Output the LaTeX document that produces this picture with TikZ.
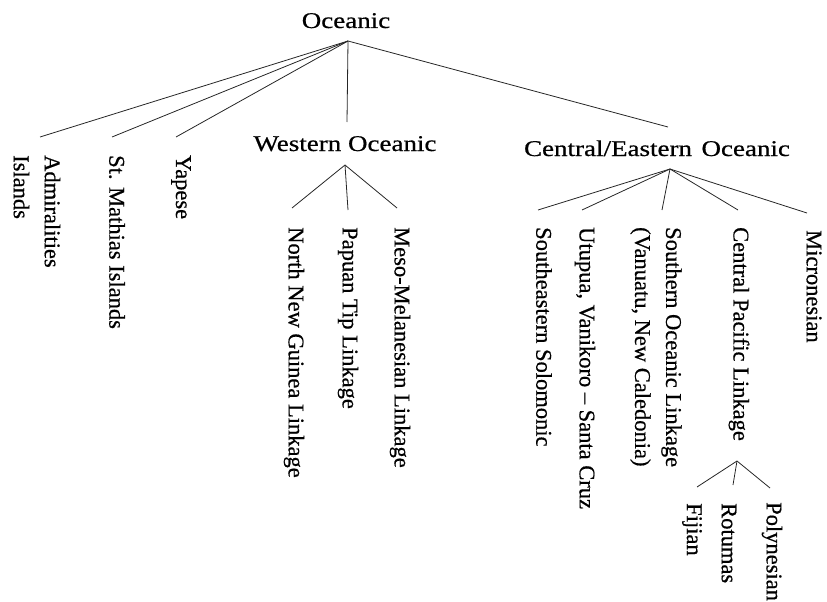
\documentclass[tikz,border=0pt]{standalone}
\usepackage{fontspec}
\usepackage{graphicx}
\setmainfont{Liberation Serif}[FakeBold=0.6]
\newcommand{\hstretch}[1]{\scalebox{1.2}[1]{#1}}
\begin{document}
\begin{tikzpicture}[x=1pt,y=1pt,
  hlab/.style={inner sep=0, anchor=base, font=\fontsize{22.5}{30}\selectfont},
  vlab/.style={inner sep=0, anchor=west, rotate=-90, align=left, font=\fontsize{22.5}{31}\selectfont},
  edge/.style={line width=0.8pt, black!85}]
\useasboundingbox (0,0) rectangle (827,-602);

% nodes
\node[hlab] (oc) at (346,-28) {\hstretch{Oceanic}};
\node[vlab] (adm) at (37,-155) {Admiralities\\Islands};
\node[vlab] (stm) at (117,-155) {St. Mathias Islands};
\node[vlab] (yap) at (181,-155) {Yapese};
\node[hlab] (wo) at (345,-151) {\hstretch{Western Oceanic}};
\node[hlab] (ceo) at (657,-156) {\hstretch{Central/Eastern\hspace{0.35em}Oceanic}};
\node[vlab] (nng) at (294,-227) {North New Guinea Linkage};
\node[vlab] (ptl) at (348,-227) {Papuan Tip Linkage};
\node[vlab] (mml) at (400,-227) {Meso-Melanesian Linkage};
\node[vlab] (ses) at (544,-227) {Southeastern Solomonic};
\node[vlab] (utu) at (585,-227) {Utupua, Vanikoro -- Santa Cruz};
\node[vlab] (sol) at (656,-227) {Southern Oceanic Linkage\\(Vanuatu, New Caledonia)};
\node[vlab] (cpl) at (739,-227) {Central Pacific Linkage};
\node[vlab] (mic) at (814,-230) {Micronesian};
\node[vlab] (fij) at (692,-503) {Fijian};
\node[vlab] (rot) at (729,-503) {Rotumas};
\node[vlab] (pol) at (772,-502) {Polynesian};

% connector ends
\coordinate (oc-b) at (348,-41);
\coordinate (adm-t) at (40,-137);
\coordinate (stm-t) at (112,-137);
\coordinate (yap-t) at (176,-137);
\coordinate (wo-t) at (347,-122);
\coordinate (ceo-t) at (668,-127);
\coordinate (wo-b) at (345,-165);
\coordinate (nng-t) at (292,-208);
\coordinate (ptl-t) at (348,-210);
\coordinate (mml-t) at (397,-208);
\coordinate (ceo-b) at (670,-169);
\coordinate (ses-t) at (538,-210);
\coordinate (utu-t) at (582,-210);
\coordinate (sol-t) at (662,-210);
\coordinate (cpl-t) at (738,-210);
\coordinate (mic-t) at (807,-213);
\coordinate (cpl-b) at (737,-461);
\coordinate (fij-t) at (697,-487);
\coordinate (rot-t) at (733,-485);
\coordinate (pol-t) at (770,-488);

% connectors
\foreach \c in {adm-t,stm-t,yap-t,wo-t,ceo-t}
  \draw[edge] (oc-b) -- (\c);
\foreach \c in {nng-t,ptl-t,mml-t}
  \draw[edge] (wo-b) -- (\c);
\foreach \c in {ses-t,utu-t,sol-t,cpl-t,mic-t}
  \draw[edge] (ceo-b) -- (\c);
\foreach \c in {fij-t,rot-t,pol-t}
  \draw[edge] (cpl-b) -- (\c);
\end{tikzpicture}
\end{document}
